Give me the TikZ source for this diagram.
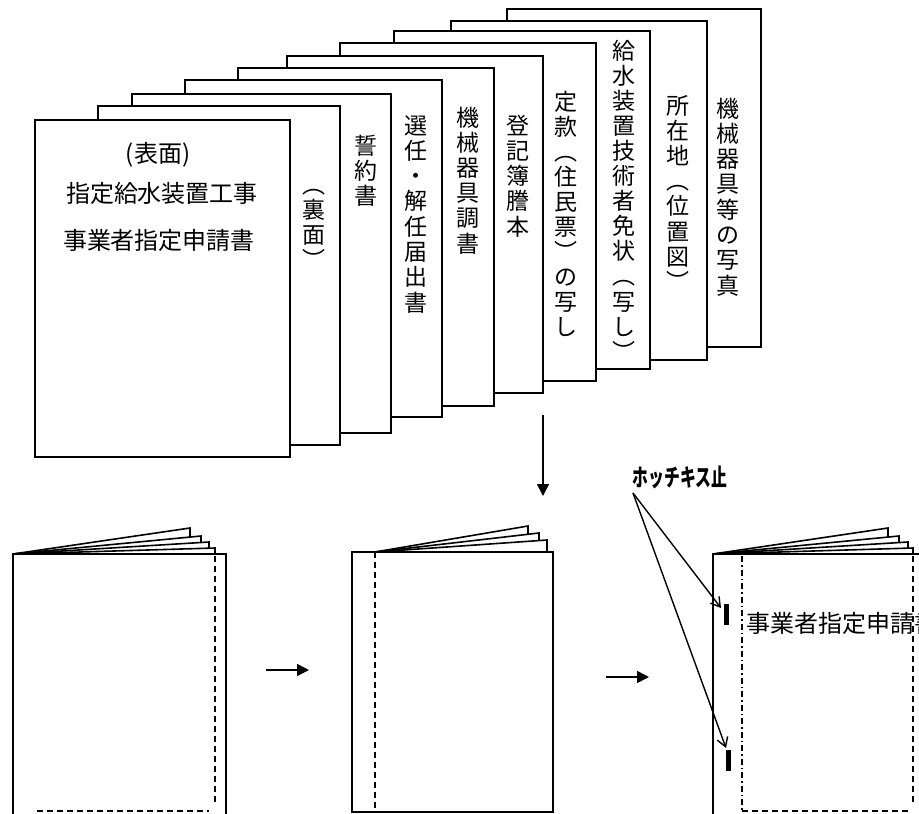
\documentclass[tikz,border=0pt]{standalone}
\usepackage{fontspec}
\setmainfont{Noto Sans CJK JP}
\usetikzlibrary{positioning}
\usetikzlibrary{arrows.meta}
\tikzset {
  % one sheet of the stack
  sheet/.style = {draw, fill=white, line width=2pt},
  % text written top to bottom, one glyph per cell
  tate/.style = {anchor=base, inner sep=0pt, font=\fontsize{23}{25}\selectfont},
  % text written left to right
  yoko/.style = {anchor=base, inner sep=0pt, font=\fontsize{24}{25}\selectfont},
  % folded booklet
  leaf/.style = {draw, fill=white, line width=1.6pt},
  cover/.style = {draw, fill=white, line width=2pt},
  fold/.style = {line width=1.9pt, dash pattern=on 6pt off 4pt},
  bind/.style = {line width=1.6pt, dash pattern=on 6pt off 3pt on 1.5pt off 3pt},
  staple/.style = {fill=black, inner sep=0pt, minimum width=5pt, minimum height=21pt},
  % arrows
  flow/.style = {line width=1.5pt, -{Triangle[length=12pt,width=12pt]}},
  pointer/.style = {line width=1.4pt, -{Straight Barb[length=9pt,width=11pt]}},
}

\begin{document}
\begin{tikzpicture}[x=1pt, y=-1pt]
  \useasboundingbox (0,0) rectangle (919,814);
  \clip (0,0) rectangle (919,814);

  % the stack, back sheet first
  \foreach \l/\t/\r/\b in {507/9/761/347, 451/21/707/360, 394/31/650/369,
      340/43/596/381, 287/56/543/393, 238/68/494/406, 185/80/442/417,
      132/94/391/433, 98/106/340/445, 35/120/290/457}
    \draw[sheet] (\l,\t) rectangle (\r,\b);

  \node[yoko] (omote) at (158,162) {(表面)};
  \node[yoko] (title1) at (162,202) {指定給水装置工事};
  \node[yoko] (title2) at (159,249) {事業者指定申請書};

  \foreach \c [count=\i from 0] in {︵,裏,面,︶}
    \node[tate] (ura\i) at (314,193+25*\i) {\c};
  \foreach \c [count=\i from 0] in {誓,約,書}
    \node[tate] (seiyaku\i) at (366,154+25*\i) {\c};
  \foreach \c [count=\i from 0] in {選,任,・,解,任,届,出,書}
    \node[tate] (sennin\i) at (416,134+25.3*\i) {\c};
  \foreach \c [count=\i from 0] in {機,械,器,具,調,書}
    \node[tate] (kikai\i) at (468,126+25.2*\i) {\c};
  \foreach \c [count=\i from 0] in {登,記,簿,謄,本}
    \node[tate] (touki\i) at (518,134+25.3*\i) {\c};
  \foreach \c [count=\i from 0] in {定,款,︵,住,民,票,︶,の,写,し}
    \node[tate] (teikan\i) at (566,110+25.1*\i) {\c};
  \foreach \c [count=\i from 0] in {給,水,装,置,技,術,者,免,状,︵,写,し,︶}
    \node[tate] (menjou\i) at (624,59+25.1*\i) {\c};
  \foreach \c [count=\i from 0] in {所,在,地,︵,位,置,図,︶}
    \node[tate] (shozai\i) at (678,114+25.2*\i) {\c};
  \foreach \c [count=\i from 0] in {機,械,器,具,等,の,写,真}
    \node[tate] (shashin\i) at (728,117+25.3*\i) {\c};

  % stack -> booklets
  \coordinate (stackfoot) at (543,415);
  \coordinate (bookhead) at (543,496);
  \draw[flow] (stackfoot) -- (bookhead);

  % first booklet
  \foreach \tx/\ty in {190/528, 201/536, 209/542, 215/548}
    \draw[leaf] (13,554) -- (\tx,\ty) -- (\tx,554) -- cycle;
  \draw[cover] (13,554) rectangle (226,840);
  \draw[fold] (215,556) -- (215,803);
  \draw[fold] (37,811) -- (209,811);

  \coordinate (a1) at (266,670);
  \coordinate (a2) at (309,670);
  \draw[flow] (a1) -- (a2);

  % second booklet
  \foreach \tx/\ty in {528/526, 539/533, 547/540}
    \draw[leaf] (375,552) -- (\tx,\ty) -- (\tx,552) -- cycle;
  \draw[cover] (352,552) rectangle (553,812);
  \draw[fold] (375,552) -- (375,812);

  \coordinate (b1) at (606,677);
  \coordinate (b2) at (649,677);
  \draw[flow] (b1) -- (b2);

  % third booklet
  \foreach \tx/\ty in {888/528, 899/536, 908/542, 913/548}
    \draw[leaf] (713,554) -- (\tx,\ty) -- (\tx,554) -- cycle;
  \draw[cover] (713,554) rectangle (924,840);
  \draw[bind] (742,556) -- (742,811);
  \draw[fold] (913,556) -- (913,803);
  \draw[fold] (742,811) -- (909,811);
  \node[yoko, anchor=base west] (cover3) at (746,632) {事業者指定申請書};

  \node[staple] (staple1) at (726.5,614.5) {};
  \node[staple] (staple2) at (728,760) {};

  \node (hotchkiss) at (680,477) {\fontsize{24}{24}\selectfont\bfseries\scalebox{0.66}[1]{ホッチキス止}};
  \coordinate (fork) at (633,493);
  \coordinate (tip1) at (721,608);
  \coordinate (tip2) at (726,748);
  \draw[pointer] (fork) -- (tip1);
  \draw[pointer] (fork) -- (tip2);
\end{tikzpicture}
\end{document}
